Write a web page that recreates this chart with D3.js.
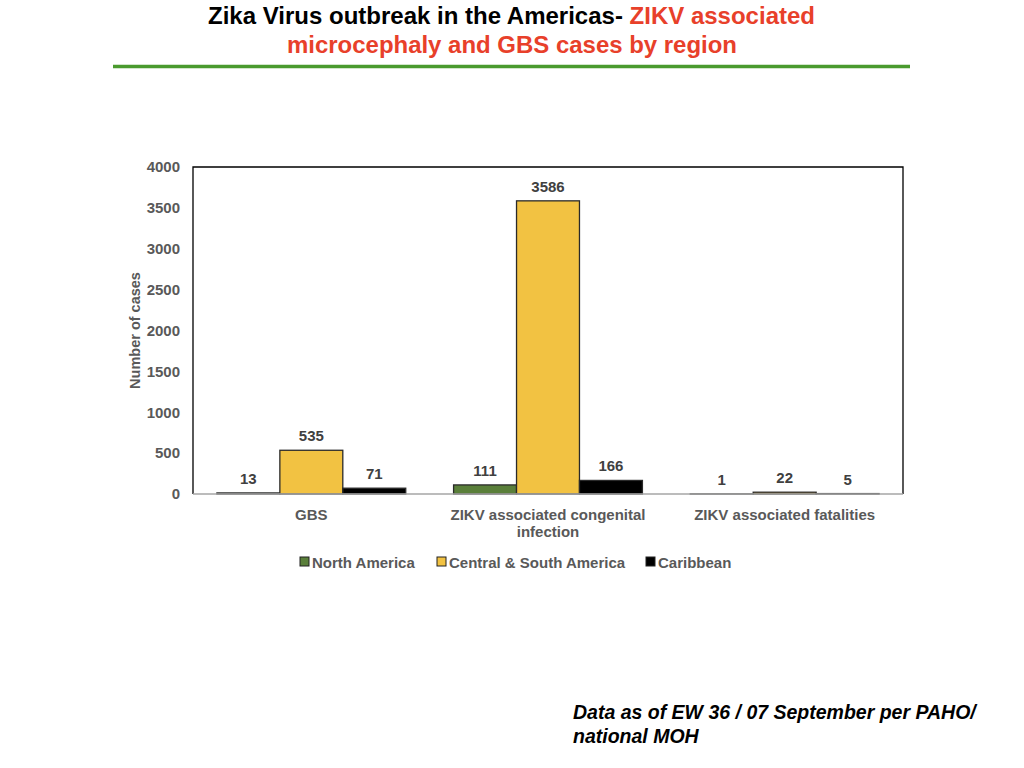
<!DOCTYPE html>
<html>
<head>
  <meta charset="utf-8">
  <title>Zika Virus outbreak in the Americas</title>
  <script src="https://d3js.org/d3.v7.min.js"></script>
  <style>
    body { margin: 0; background: #fff; }
    svg { display: block; font-family: "Liberation Sans", Arial, sans-serif; }
  </style>
</head>
<body>
  <script>
    // data
    var categories = ["GBS", "ZIKV associated congenital infection", "ZIKV associated fatalities"];
    var regions = ["North America", "Central & South America", "Caribbean"];
    var northAmerica = [13, 111, 1];
    var centralSouth = [535, 3586, 22];
    var caribbean = [71, 166, 5];
    var yTicks = [0, 500, 1000, 1500, 2000, 2500, 3000, 3500, 4000];
    var colors = ["#5a7f3a", "#f2c242", "#000000"];

    var series = [northAmerica, centralSouth, caribbean];

    var svg = d3.select("body")
      .append("svg")
      .attr("width", 1024)
      .attr("height", 768);

    // title (condensed look via textLength)
    svg.append("text")
      .attr("x", 208).attr("y", 24)
      .attr("font-weight", "bold")
      .attr("font-size", 24)
      .attr("textLength", 607)
      .attr("lengthAdjust", "spacingAndGlyphs")
      .call(function(t) {
        t.append("tspan").attr("fill", "#000").text("Zika Virus outbreak in the Americas- ");
        t.append("tspan").attr("fill", "#e8402a").text("ZIKV associated");
      });
    svg.append("text")
      .attr("x", 287).attr("y", 53)
      .attr("font-weight", "bold")
      .attr("font-size", 24)
      .attr("fill", "#e8402a")
      .attr("textLength", 450)
      .attr("lengthAdjust", "spacingAndGlyphs")
      .text("microcephaly and GBS cases by region");

    svg.append("line")
      .attr("x1", 113).attr("x2", 910)
      .attr("y1", 66.5).attr("y2", 66.5)
      .attr("stroke", "#4a9a2e")
      .attr("stroke-width", 3.5);

    var plotLeft = 193, plotRight = 903, plotTop = 167, plotBottom = 494;

    var x0 = d3.scaleBand().domain(categories).range([plotLeft, plotRight]).padding(0);
    var x1 = d3.scaleBand().domain(regions).range([0, x0.bandwidth()])
      .paddingInner(0).paddingOuter(0.38);
    var y = d3.scaleLinear().domain([0, 4000]).range([plotBottom, plotTop]);

    // frame
    svg.append("path")
      .attr("d", "M" + plotLeft + "," + plotBottom + "V" + plotTop + "H" + plotRight + "V" + plotBottom)
      .attr("fill", "none")
      .attr("stroke", "#000")
      .attr("stroke-width", 1.3);

    var groups = svg.selectAll(".grp")
      .data(categories)
      .enter()
      .append("g")
      .attr("class", "grp")
      .attr("transform", function(d) { return "translate(" + x0(d) + ",0)"; });

    groups.selectAll("rect")
      .data(function(d, i) {
        return regions.map(function(r, j) { return { region: r, value: series[j][i], idx: j }; });
      })
      .enter()
      .append("rect")
      .attr("x", function(d) { return x1(d.region); })
      .attr("y", function(d) { return y(d.value); })
      .attr("width", x1.bandwidth())
      .attr("height", function(d) { return y(0) - y(d.value); })
      .attr("fill", function(d) { return colors[d.idx]; })
      .attr("stroke", "#2a2a2a")
      .attr("stroke-width", 1.3);

    groups.selectAll(".val")
      .data(function(d, i) {
        return regions.map(function(r, j) { return { region: r, value: series[j][i] }; });
      })
      .enter()
      .append("text")
      .attr("class", "val")
      .attr("x", function(d) { return x1(d.region) + x1.bandwidth() / 2; })
      .attr("y", function(d) { return y(d.value) - 9; })
      .attr("text-anchor", "middle")
      .attr("font-size", 15)
      .attr("font-weight", "bold")
      .attr("fill", "#404040")
      .text(function(d) { return d.value; });

    // baseline
    svg.append("line")
      .attr("x1", plotLeft).attr("x2", plotRight)
      .attr("y1", y(0)).attr("y2", y(0))
      .attr("stroke", "#a6a6a6")
      .attr("stroke-width", 1.5);

    // y axis
    var yAxis = svg.append("g")
      .attr("transform", "translate(" + plotLeft + ",0)")
      .call(d3.axisLeft(y).tickValues(yTicks).tickFormat(d3.format("d")).tickSize(0).tickPadding(13));
    yAxis.select(".domain").remove();
    yAxis.selectAll("text")
      .attr("font-family", "'Liberation Sans', Arial, sans-serif")
      .attr("font-size", 15)
      .attr("font-weight", "bold")
      .attr("fill", "#595959");

    svg.append("text")
      .attr("transform", "translate(140," + ((plotTop + plotBottom) / 2) + ") rotate(-90)")
      .attr("text-anchor", "middle")
      .attr("font-size", 14.5)
      .attr("font-weight", "bold")
      .attr("fill", "#595959")
      .text("Number of cases");

    // category labels
    var catLines = {
      "GBS": ["GBS"],
      "ZIKV associated congenital infection": ["ZIKV associated congenital", "infection"],
      "ZIKV associated fatalities": ["ZIKV associated fatalities"]
    };
    categories.forEach(function(c) {
      var t = svg.append("text")
        .attr("text-anchor", "middle")
        .attr("font-size", 15)
        .attr("font-weight", "bold")
        .attr("fill", "#595959");
      catLines[c].forEach(function(line, k) {
        t.append("tspan")
          .attr("x", x0(c) + x0.bandwidth() / 2)
          .attr("y", 520 + k * 17)
          .text(line);
      });
    });

    // legend
    var legendX = [300, 437, 646];
    regions.forEach(function(r, i) {
      svg.append("rect")
        .attr("x", legendX[i]).attr("y", 557)
        .attr("width", 9).attr("height", 9)
        .attr("fill", colors[i])
        .attr("stroke", "#222")
        .attr("stroke-width", 1);
      svg.append("text")
        .attr("x", legendX[i] + 12).attr("y", 568)
        .attr("font-size", 15)
        .attr("font-weight", "bold")
        .attr("fill", "#595959")
        .text(r);
    });

    // source note
    var note = svg.append("text")
      .attr("font-size", 19.5)
      .attr("font-weight", "bold")
      .attr("font-style", "italic")
      .attr("fill", "#000");
    note.append("tspan").attr("x", 573).attr("y", 719).text("Data as of EW 36 / 07 September per PAHO/");
    note.append("tspan").attr("x", 573).attr("y", 743).text("national MOH");
  </script>
</body>
</html>
